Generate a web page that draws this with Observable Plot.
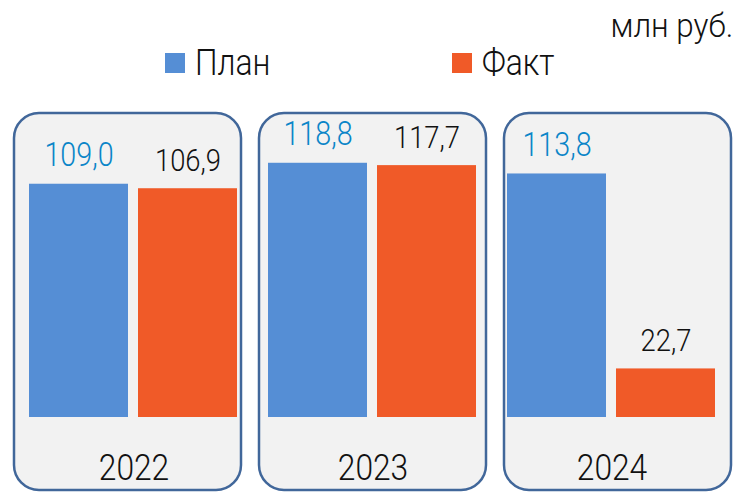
<!DOCTYPE html>
<html><head><meta charset="utf-8">
<script src="https://cdn.jsdelivr.net/npm/d3@7"></script>
<script src="https://cdn.jsdelivr.net/npm/@observablehq/plot@0.6"></script>
<style>
body{margin:0;background:#fff;}
#wrap{position:relative;width:739px;height:492px;overflow:hidden;font-family:Roboto,"Noto Sans",sans-serif;font-weight:300;color:#111;}
#wrap svg{position:absolute;left:0;top:0;}
.unit{position:absolute;right:6px;top:9px;font-size:33px;line-height:1;white-space:nowrap;transform:scaleX(0.95);transform-origin:right center;}
.leg{position:absolute;top:44px;display:flex;align-items:center;font-size:37px;line-height:1;white-space:nowrap;}
.leg i{display:inline-block;width:20px;height:20px;margin-right:10px;}
.leg span{display:inline-block;transform:scaleX(0.86);transform-origin:left center;}
</style>
</head><body>
<div id="wrap"></div>
<script>
const years = ["2022", "2023", "2024"];
const series = ["План", "Факт"];
const plan = [109.0, 118.8, 113.8];
const fact = [106.9, 117.7, 22.7];
const unitLabel = "млн руб.";
const seriesColors = ["#558ED5", "#F05A28"];
const labelColors = ["#0A85C8", "#111111"];

const rows = [];
years.forEach((y, i) => {
  rows.push({year: y, series: series[0], value: plan[i]});
  rows.push({year: y, series: series[1], value: fact[i]});
});
const fmt = v => v.toFixed(1).replace(".", ",");
const FONT = 'Roboto,"Noto Sans",sans-serif';

const wrap = document.getElementById("wrap");

// Rounded panels
const panels = Plot.plot({
  width: 739, height: 492,
  marginLeft: 13, marginRight: 7.5, marginTop: 113, marginBottom: 2,
  style: {background: "transparent"},
  fx: {domain: years, paddingInner: 0.075, paddingOuter: 0, axis: null},
  marks: [
    Plot.rect(years, {fx: d => d, rx: 25, fill: "#F2F2F2", stroke: "#41679A", strokeWidth: 2.5})
  ]
});
wrap.appendChild(panels);

// Bars
const bars = Plot.plot({
  width: 739, height: 492,
  marginLeft: 29, marginRight: 23, marginTop: 117.4, marginBottom: 75,
  style: {background: "transparent", fontFamily: FONT, fontWeight: 300},
  fx: {domain: years, paddingInner: 30 / 239, paddingOuter: 0, axis: null},
  x: {domain: series, paddingInner: 0.0913, paddingOuter: 0, axis: null},
  y: {domain: [0, 140], axis: null},
  color: {domain: series, range: seriesColors},
  marks: [
    Plot.barY(rows, {fx: "year", x: "series", y: "value", fill: "series"}),
    Plot.text(rows.filter(d => d.series === series[0]), {fx: "year", x: "series", y: "value", text: d => fmt(d.value), dy: -18, lineAnchor: "bottom", fill: labelColors[0], fontSize: 33}),
    Plot.text(rows.filter(d => d.series === series[1]), {fx: "year", x: "series", y: "value", text: d => fmt(d.value), dy: -18, lineAnchor: "bottom", fill: labelColors[1], fontSize: 31.5}),
    Plot.text(years, {fx: d => d, text: d => d, frameAnchor: "bottom", dy: 62, lineAnchor: "bottom", fontSize: 36.5, fill: "#111"})
  ]
});
wrap.appendChild(bars);
// condense the glyphs horizontally to match the narrow typeface of the original
d3.select(bars).selectAll("text").each(function() {
  const w = this.getComputedTextLength();
  this.setAttribute("textLength", w * 0.87);
  this.setAttribute("lengthAdjust", "spacingAndGlyphs");
});

// Unit + legend (HTML)
const u = document.createElement("div");
u.className = "unit"; u.textContent = unitLabel; wrap.appendChild(u);
const legX = [165, 452];
series.forEach((s, i) => {
  const d = document.createElement("div");
  d.className = "leg"; d.style.left = legX[i] + "px";
  const sw = document.createElement("i"); sw.style.background = seriesColors[i];
  const t = document.createElement("span"); t.textContent = s;
  d.appendChild(sw); d.appendChild(t);
  wrap.appendChild(d);
});
</script>
</body></html>
